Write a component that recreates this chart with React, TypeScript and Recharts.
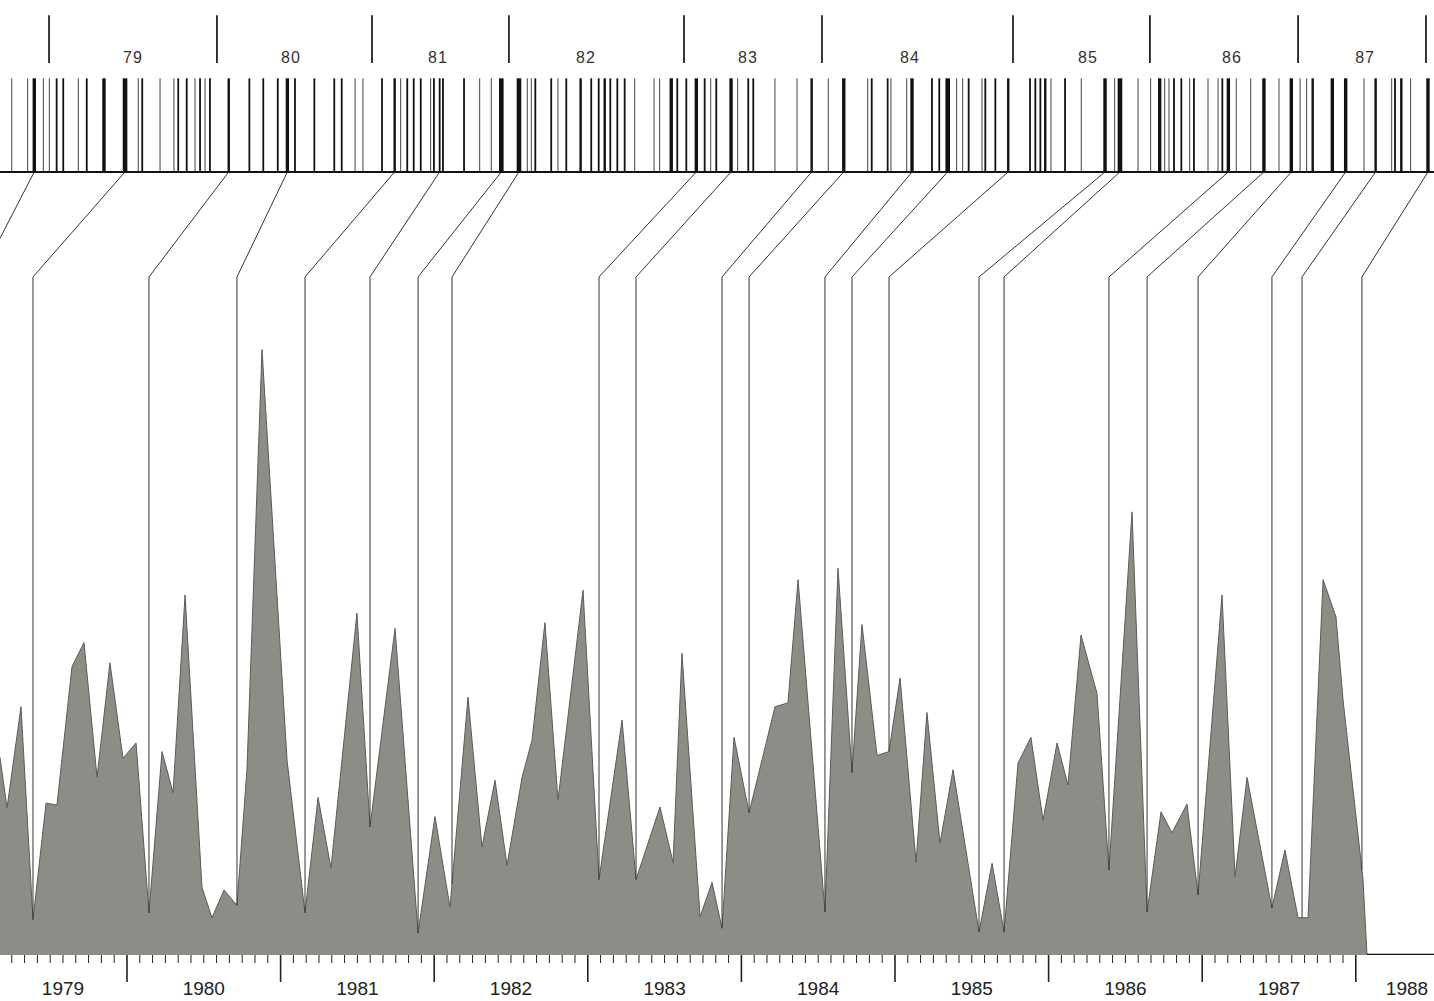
import { Area, ComposedChart, ReferenceDot, ReferenceLine, XAxis, YAxis } from "recharts";

// x axis runs in decimal years; the strip at the top is measured in per-mille of its width
const X_MIN = 1979.1732;
const X_MAX = 1988.5091;
const stripToYear = (u: number) => X_MIN + (u / 1000) * (X_MAX - X_MIN);

// area series (time, level)
const AREA_T = [
  1979.173, 1979.219, 1979.31, 1979.388, 1979.473, 1979.544, 1979.642, 1979.72, 1979.805, 1979.889,
  1979.974, 1980.059, 1980.143, 1980.228, 1980.3, 1980.378, 1980.488, 1980.553, 1980.632, 1980.716,
  1980.781, 1980.879, 1981.042, 1981.159, 1981.244, 1981.328, 1981.497, 1981.582, 1981.745, 1981.895,
  1982.005, 1982.103, 1982.22, 1982.311, 1982.396, 1982.474, 1982.572, 1982.637, 1982.721, 1982.806,
  1982.969, 1983.073, 1983.223, 1983.314, 1983.47, 1983.555, 1983.613, 1983.731, 1983.809, 1983.874,
  1983.952, 1984.05, 1984.219, 1984.303, 1984.369, 1984.544, 1984.629, 1984.72, 1984.785, 1984.883,
  1984.961, 1985.033, 1985.137, 1985.208, 1985.293, 1985.378, 1985.547, 1985.632, 1985.71, 1985.801,
  1985.885, 1985.964, 1986.055, 1986.126, 1986.211, 1986.315, 1986.393, 1986.543, 1986.641, 1986.732,
  1986.803, 1986.901, 1986.973, 1987.129, 1987.214, 1987.292, 1987.454, 1987.539, 1987.624, 1987.689,
  1987.787, 1987.871, 1987.917, 1988.047, 1988.073,
];
const AREA_V = [
  20.7, 15.4, 26.0, 3.7, 15.9, 15.7, 30.2, 32.7, 18.6, 30.6,
  20.6, 22.2, 4.4, 21.3, 17.0, 37.7, 7.1, 3.9, 6.8, 5.2,
  19.4, 63.4, 20.4, 4.4, 16.5, 9.1, 35.8, 13.4, 34.2, 2.3,
  14.5, 5.0, 27.0, 11.3, 18.3, 9.4, 18.6, 22.5, 34.8, 16.2,
  38.2, 7.9, 24.6, 7.9, 15.5, 9.7, 31.6, 4.0, 7.6, 2.8,
  22.8, 14.9, 26.0, 26.4, 39.3, 4.5, 40.5, 19.1, 34.6, 20.9,
  21.3, 29.0, 9.7, 25.4, 11.7, 19.4, 2.4, 9.6, 2.4, 20.1,
  22.8, 14.1, 22.2, 17.8, 33.5, 27.4, 8.9, 46.4, 4.5, 15.0,
  12.8, 15.8, 6.3, 37.7, 8.2, 18.6, 4.9, 11.0, 3.9, 3.9,
  39.3, 35.4, 26.7, 7.9, 0,
];

// events on the strip: [position, multiplicity]
const EVENTS: [number, number][] = [
  [8.2, 1], [19.3, 1], [23.9, 4], [30.2, 1], [34.4, 1], [39.5, 2], [44.1, 2], [54.6, 1], [60.5, 2], [72.5, 4],
  [87.2, 5], [96.4, 1], [99.2, 2], [111.6, 1], [121.3, 1], [124.3, 2], [130.2, 2], [136.0, 1], [139.5, 2], [143.0, 1],
  [146.4, 2], [159.5, 3], [173.9, 2], [183.6, 2], [193.7, 2], [200.4, 4], [205.7, 2], [219.2, 2], [233.1, 2], [238.3, 2],
  [247.6, 1], [253.1, 1], [266.4, 2], [275.2, 3], [279.4, 1], [284.0, 2], [288.5, 2], [293.4, 2], [300.3, 1], [302.6, 2],
  [306.6, 2], [308.9, 2], [323.6, 2], [334.5, 1], [342.6, 1], [349.6, 5], [361.9, 5], [367.7, 1], [370.5, 1], [373.3, 2],
  [384.4, 2], [389.1, 1], [394.9, 2], [404.9, 3], [412.3, 2], [417.5, 2], [421.7, 3], [425.6, 2], [430.5, 2], [435.6, 2],
  [442.6, 1], [456.1, 1], [460.0, 1], [468.1, 4], [472.3, 2], [478.6, 2], [485.6, 4], [491.4, 2], [495.6, 1], [499.5, 2],
  [509.8, 4], [514.4, 1], [521.8, 2], [525.3, 2], [540.4, 1], [555.8, 1], [566.0, 3], [577.6, 1], [588.4, 4], [605.1, 1],
  [607.9, 2], [619.0, 2], [621.3, 1], [632.3, 1], [636.0, 4], [649.9, 2], [655.0, 2], [660.9, 5], [667.1, 1], [671.3, 1],
  [675.5, 2], [684.8, 1], [687.1, 2], [694.1, 2], [703.1, 3], [718.3, 2], [722.0, 2], [725.5, 2], [728.9, 3], [732.9, 1],
  [742.7, 2], [754.0, 1], [770.6, 4], [777.3, 1], [781.0, 5], [793.6, 1], [802.4, 1], [808.7, 4], [812.2, 1], [815.2, 1],
  [818.7, 2], [823.8, 2], [829.6, 1], [832.6, 2], [842.4, 1], [849.4, 1], [852.4, 2], [856.6, 4], [862.1, 1], [872.2, 1],
  [881.4, 4], [891.9, 1], [900.5, 4], [906.6, 1], [911.2, 1], [915.4, 3], [929.1, 4], [938.4, 4], [951.2, 1], [959.3, 3],
  [970.5, 1], [972.8, 2], [977.2, 3], [983.7, 1], [995.8, 4],
];

const STRIP_SEPARATORS = [34.2, 151.3, 259.4, 354.9, 477.0, 573.2, 706.4, 801.9, 905.2, 994.4];
const STRIP_LABELS = ["79", "80", "81", "82", "83", "84", "85", "86", "87"];
const STRIP_LABEL_AT = [92.7, 202.9, 305.4, 408.6, 521.6, 634.6, 758.7, 859.1, 951.9];

// links: strip position -> time on the lower axis
const LINK_FROM = [
  23.9, 87.2, 159.5, 200.4, 275.2, 306.6, 349.6, 361.9, 485.6, 509.8, 566.0, 588.4,
  636.0, 660.9, 703.1, 770.6, 781.0, 856.6, 881.4, 900.5, 938.4, 959.3, 995.8,
];
const LINK_TO = [
  1979.043, 1979.388, 1980.143, 1980.716, 1981.159, 1981.582, 1981.895, 1982.116, 1983.073, 1983.314, 1983.874, 1984.05,
  1984.544, 1984.72, 1984.961, 1985.547, 1985.71, 1986.393, 1986.641, 1986.973, 1987.454, 1987.65, 1988.04,
];

const YEARS = [1979, 1980, 1981, 1982, 1983, 1984, 1985, 1986, 1987, 1988];

// vertical layout in y-axis units (0..100)
const Y_BAND_BASE = 82.0;
const Y_BAND_TOP = 91.8;
const Y_KNEE = 71.0;
const Y_SEP_LO = 93.4;
const Y_SEP_HI = 98.4;
const Y_LABEL = 94.0;

const rows = AREA_T.map((t, i) => ({ t, v: AREA_V[i] }));

function levelAt(t: number) {
  if (t <= AREA_T[0]) return AREA_V[0];
  for (let i = 1; i < AREA_T.length; i++) {
    if (t <= AREA_T[i]) {
      const f = (t - AREA_T[i - 1]) / (AREA_T[i] - AREA_T[i - 1]);
      return AREA_V[i - 1] + f * (AREA_V[i] - AREA_V[i - 1]);
    }
  }
  return 0;
}

const WIDTH_BY_N = [0, 1, 1.8, 2.4, 3.4, 4.6];

// monthly ticks; year labels sit mid-year (edge years nudged inward)
const LAST_MONTH = 1988 * 12;
const monthTicks: number[] = [];
for (let k = Math.ceil(X_MIN * 12); k <= LAST_MONTH + 4; k++) monthTicks.push(k / 12);
const labelAt = new Map<number, number>();
YEARS.forEach((y) => {
  const m = y === 1979 ? 7 : y === 1988 ? 4 : 6;
  labelAt.set((y * 12 + m) / 12, y);
});

function YearTick(props: any) {
  const { x, y, payload } = props;
  const v = payload.value as number;
  const k = Math.round(v * 12);
  const isMonth = k <= LAST_MONTH;
  const isMajor = k % 12 === 0;
  const label = labelAt.get(v);
  return (
    <g>
      {isMonth && (
        <line x1={x} x2={x} y1={y} y2={y + (isMajor ? 27 : 8)} stroke="#222" strokeWidth={isMajor ? 1.6 : 1} />
      )}
      {label !== undefined && (
        <text x={x} y={y + 40} textAnchor="middle" fontSize={19} fill="#222">
          {label}
        </text>
      )}
    </g>
  );
}

export default function App() {
  return (
    <div
      style={{
        position: "absolute",
        left: 0,
        top: 0,
        width: 1434,
        height: 1001,
        background: "#fff",
        fontFamily: "'Liberation Sans', Arial, sans-serif",
      }}
    >
      <ComposedChart width={1434} height={1001} data={rows} margin={{ top: 0, right: 0, bottom: 0, left: 0 }}>
        <XAxis
          type="number"
          dataKey="t"
          domain={[X_MIN, X_MAX]}
          allowDataOverflow
          ticks={monthTicks}
          interval={0}
          tick={YearTick}
          tickLine={false}
          axisLine={false}
          tickSize={0}
          tickMargin={0}
          height={46}
        />
        <YAxis type="number" domain={[0, 100]} allowDataOverflow hide />
        <Area
          type="linear"
          dataKey="v"
          fill="#8d8d87"
          fillOpacity={1}
          stroke="#5c5c56"
          strokeWidth={1}
          dot={false}
          activeDot={false}
          isAnimationActive={false}
        />
        <ReferenceLine
          segment={[{ x: AREA_T[AREA_T.length - 1], y: 0 }, { x: X_MAX, y: 0 }]}
          stroke="#111"
          strokeWidth={2.5}
          ifOverflow="hidden"
        />

        {/* links from the strip down into the series */}
        {LINK_FROM.map((u, i) => (
          <ReferenceLine
            key={`ld-${i}`}
            segment={[{ x: stripToYear(u), y: Y_BAND_BASE }, { x: LINK_TO[i], y: Y_KNEE }]}
            stroke="#333"
            strokeWidth={1}
            ifOverflow="hidden"
          />
        ))}
        {LINK_TO.map((t, i) => (
          <ReferenceLine
            key={`lv-${i}`}
            segment={[{ x: t, y: Y_KNEE }, { x: t, y: levelAt(t) }]}
            stroke="#333"
            strokeWidth={1}
            ifOverflow="hidden"
          />
        ))}

        {/* event strip */}
        {EVENTS.map(([u, n], i) => (
          <ReferenceLine
            key={`ev-${i}`}
            segment={[{ x: stripToYear(u), y: Y_BAND_BASE }, { x: stripToYear(u), y: Y_BAND_TOP }]}
            stroke={n === 1 ? "#444" : "#111"}
            strokeWidth={WIDTH_BY_N[n]}
            ifOverflow="hidden"
          />
        ))}
        <ReferenceLine
          segment={[{ x: X_MIN, y: Y_BAND_BASE }, { x: X_MAX, y: Y_BAND_BASE }]}
          stroke="#111"
          strokeWidth={2}
          ifOverflow="hidden"
        />
        {STRIP_SEPARATORS.map((u, i) => (
          <ReferenceLine
            key={`sep-${i}`}
            segment={[{ x: stripToYear(u), y: Y_SEP_LO }, { x: stripToYear(u), y: Y_SEP_HI }]}
            stroke="#222"
            strokeWidth={1.8}
            ifOverflow="hidden"
          />
        ))}
        {STRIP_LABELS.map((s, i) => (
          <ReferenceDot
            key={`lab-${i}`}
            x={stripToYear(STRIP_LABEL_AT[i])}
            y={Y_LABEL}
            r={1}
            fill="none"
            stroke="none"
            ifOverflow="visible"
            label={{ value: s, position: "center", fontSize: 16, fill: "#333", letterSpacing: 1 }}
          />
        ))}
      </ComposedChart>
    </div>
  );
}
